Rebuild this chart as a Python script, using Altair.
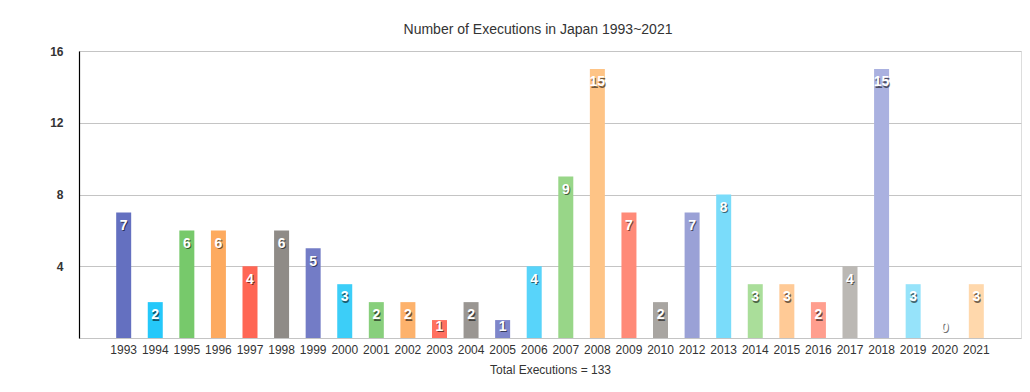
import altair as alt
import pandas as pd

years = ["1993", "1994", "1995", "1996", "1997", "1998", "1999", "2000", "2001", "2002",
         "2003", "2004", "2005", "2006", "2007", "2008", "2009", "2010", "2012", "2013",
         "2014", "2015", "2016", "2017", "2018", "2019", "2020", "2021"]
executions = [7, 2, 6, 6, 4, 6, 5, 3, 2, 2,
              1, 2, 1, 4, 9, 15, 7, 2, 7, 8,
              3, 3, 2, 4, 15, 3, 0, 3]
colors = ["#6470C0", "#25C8FA", "#77C96B", "#FDAA5F", "#FF6654", "#8F8B87",
          "#737CC6", "#3CCEF8", "#88CF7C", "#FDB26C", "#FF7060", "#9A9692",
          "#7E86CA", "#58D4FA", "#98D688", "#FEC486", "#FF8A78", "#A8A5A1",
          "#9AA1D6", "#7ADCFA", "#AADE9A", "#FFCA96", "#FF9E8E", "#BBB8B4",
          "#AAB1E0", "#96E3FA", "#C0E8B4", "#FFD8AC"]
y_ticks = [0, 4, 8, 12, 16]

df = pd.DataFrame({"year": years, "count": executions})

FONT = "Liberation Sans"

x_scale = alt.Scale(paddingInner=0.17, paddingOuter=1)

x_enc = alt.X(
    "year:N",
    sort=years,
    scale=x_scale,
    axis=alt.Axis(
        title="Total Executions = 133",
        labelAngle=0,
        labelFont=FONT,
        labelFontSize=12,
        labelColor="#333333",
        labelPadding=6,
        ticks=False,
        domain=False,
        titleFont=FONT,
        titleFontSize=12,
        titleFontWeight="normal",
        titleColor="#333333",
        titlePadding=9,
    ),
)

y_scale = alt.Scale(domain=[0, 16])

bars = alt.Chart(df).mark_bar(width=15).encode(
    x=x_enc,
    y=alt.Y(
        "count:Q",
        scale=y_scale,
        axis=alt.Axis(
            title=None,
            values=y_ticks,
            labelExpr="datum.value == 0 ? '' : datum.label",
            labelFont=FONT,
            labelFontSize=12,
            labelFontWeight="bold",
            labelColor="#333333",
            labelPadding=16,
            ticks=False,
            domain=True,
            domainColor="#000000",
            domainWidth=1.2,
            grid=True,
            gridColor="#C4C4C4",
            gridWidth=1,
        ),
    ),
    color=alt.Color("year:N", scale=alt.Scale(domain=years, range=colors), legend=None),
)

label_base = alt.Chart(df).transform_calculate(
    ly="datum.count >= 2 ? datum.count - 0.74 : (datum.count == 1 ? 0.63 : 0.56)",
    lbl="'' + datum.count",
)

shadow = label_base.mark_text(
    font=FONT, fontSize=14, fontWeight="bold", color="#000000", opacity=0.55,
    baseline="middle", align="center", dx=1, dy=1.5,
).encode(
    x=alt.X("year:N", sort=years, scale=x_scale),
    y=alt.Y("ly:Q", scale=y_scale),
    text="lbl:N",
)

labels = label_base.mark_text(
    font=FONT, fontSize=14, fontWeight="bold", color="#FFFFFF",
    baseline="middle", align="center",
).encode(
    x=alt.X("year:N", sort=years, scale=x_scale),
    y=alt.Y("ly:Q", scale=y_scale),
    text="lbl:N",
)

chart = alt.layer(bars, shadow, labels).properties(
    width=942,
    height=287,
    title=alt.TitleParams(
        "Number of Executions in Japan 1993~2021",
        font=FONT,
        fontSize=14,
        fontWeight="normal",
        color="#333333",
        anchor="middle",
        frame="group",
        baseline="alphabetic",
        offset=18,
        dx=-12,
        dy=21,
    ),
    autosize=alt.AutoSizeParams(type="none"),
    padding={"left": 71, "top": 43, "right": 1, "bottom": 46},
).configure_view(stroke=None).configure(background="#FFFFFF")

chart.save("out.html", embed_options={"renderer": "svg", "actions": False})
